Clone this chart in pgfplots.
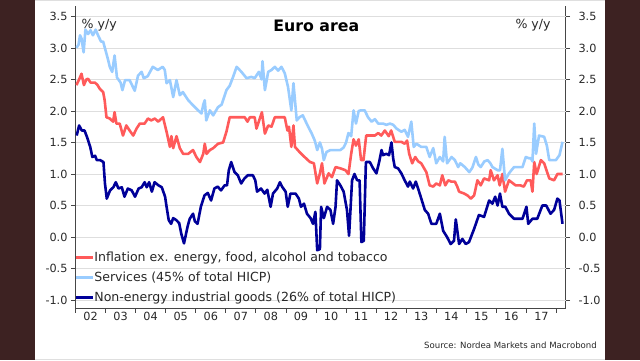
\documentclass[border=0pt]{standalone}
\usepackage{fontspec}
\setmainfont{DejaVu Sans}
\usepackage{pgfplots}
\pgfplotsset{compat=1.18}
\definecolor{frame}{RGB}{61,34,34}
\definecolor{core}{RGB}{255,90,90}
\definecolor{serv}{RGB}{153,204,255}
\definecolor{neig}{RGB}{0,0,153}
\definecolor{gridc}{RGB}{222,222,222}
\definecolor{axc}{RGB}{70,70,70}
\definecolor{txt}{RGB}{40,40,40}
\begin{document}
\begin{tikzpicture}[x=1bp,y=1bp]
\useasboundingbox (0,0) rectangle (640,360);
\fill[frame] (0,0) rectangle (640,360);
\fill[white] (35,0) rectangle (605,360);
\draw[gray!25, line width=0.8bp] (35,359.5) -- (605,359.5);
\draw[gray!25, line width=0.8bp] (35,1) -- (605,1);
% right axis (labels only)
\begin{axis}[
  at={(75.5bp,51.7bp)}, anchor=south west, scale only axis,
  width=490bp, height=302bp,
  xmin=2002, xmax=2018.3, ymin=-1.13, ymax=3.66,
  axis y line*=right, axis x line=none,
  axis line style={axc, line width=0.8bp, -},
  ytick={-1,-0.5,0,0.5,1,1.5,2,2.5,3,3.5},
  tick align=outside, major tick length=4.5bp,
  tick style={axc, line width=0.8bp},
  yticklabel pos=right,
  /pgf/number format/fixed, /pgf/number format/fixed zerofill,
  /pgf/number format/precision=1, /pgf/number format/assume math mode=true,
  y tick label style={font=\fontsize{11.3}{13}\selectfont, text=txt, xshift=5bp},
]
\addplot[draw=none, forget plot] coordinates {(2002,0) (2018,0)};
\end{axis}
% main axis
\begin{axis}[
  at={(75.5bp,51.7bp)}, anchor=south west, scale only axis,
  width=490bp, height=302bp,
  xmin=2002, xmax=2018.3, ymin=-1.13, ymax=3.66,
  axis x line*=bottom, axis y line*=left,
  axis line style={axc, line width=0.8bp, -},
  ytick={-1,-0.5,0,0.5,1,1.5,2,2.5,3,3.5},
  ymajorgrids, grid style={gridc, line width=0.8bp},
  xtick={2002,2003,...,2018}, xticklabels={},
  extra x ticks={2002.5,2003.5,2004.5,2005.5,2006.5,2007.5,2008.5,2009.5,2010.5,2011.5,2012.5,2013.5,2014.5,2015.5,2016.5,2017.5},
  extra x tick labels={02,03,04,05,06,07,08,09,10,11,12,13,14,15,16,17},
  extra x tick style={major tick length=0pt},
  tick align=outside, major tick length=4.5bp,
  tick style={axc, line width=0.8bp},
  /pgf/number format/fixed, /pgf/number format/fixed zerofill,
  /pgf/number format/precision=1, /pgf/number format/assume math mode=true,
  y tick label style={font=\fontsize{11.3}{13}\selectfont, text=txt},
  x tick label style={font=\fontsize{11.3}{13}\selectfont, text=txt},
  legend style={at={(0.0,0.197)}, anchor=north west, xshift=-4bp, draw=none, fill=none,
    font=\fontsize{12.6}{14}\selectfont, text=txt, row sep=6.5bp, column sep=-1.5bp,
    nodes={inner sep=1.2bp}},
  legend cell align=left,
  legend image code/.code={\draw[#1, line width=3bp] (0bp,0bp) -- (17bp,0bp);},
  every axis plot/.append style={line width=2.6bp, line join=round},
]
\addplot[core] coordinates {
(2002.03,2.41)(2002.12,2.50)(2002.2,2.59)(2002.28,2.41)(2002.36,2.50)(2002.42,2.51)(2002.5,2.45)(2002.64,2.45)(2002.72,2.42)(2002.81,2.35)(2002.92,2.30)(2002.97,2.17)
(2003.03,1.90)(2003.14,1.88)(2003.25,1.83)(2003.3,1.98)(2003.36,1.80)(2003.47,1.80)(2003.58,1.61)(2003.69,1.77)(2003.8,1.69)(2003.92,1.61)
(2004.03,1.72)(2004.14,1.80)(2004.3,1.80)(2004.41,1.88)(2004.52,1.85)(2004.64,1.88)(2004.75,1.83)(2004.91,1.90)
(2005.03,1.67)(2005.14,1.43)(2005.19,1.60)(2005.25,1.41)(2005.36,1.60)(2005.47,1.41)(2005.58,1.32)(2005.75,1.32)(2005.91,1.38)
(2006.02,1.27)(2006.14,1.19)(2006.25,1.32)(2006.3,1.48)(2006.36,1.32)(2006.47,1.38)(2006.58,1.41)(2006.74,1.48)(2006.91,1.50)
(2007.02,1.67)(2007.13,1.90)(2007.3,1.90)(2007.63,1.90)(2007.72,1.83)(2007.8,1.90)(2007.96,1.90)
(2008.02,1.72)(2008.13,1.88)(2008.2,1.98)(2008.3,1.64)(2008.41,1.77)(2008.52,1.75)(2008.63,1.90)(2008.96,1.90)
(2009.05,1.69)(2009.1,1.75)(2009.18,1.43)(2009.25,1.77)(2009.3,1.43)(2009.45,1.35)(2009.62,1.27)(2009.8,1.19)(2009.93,1.17)
(2010.04,0.85)(2010.13,1.01)(2010.2,1.17)(2010.28,0.85)(2010.42,1.01)(2010.53,0.95)(2010.65,1.11)(2010.81,1.09)(2010.98,1.06)
(2011.08,1.0)(2011.17,1.32)(2011.25,1.55)(2011.33,1.45)(2011.42,1.55)(2011.5,1.22)(2011.58,1.22)(2011.67,1.61)(2011.96,1.61)
(2012.07,1.65)(2012.17,1.61)(2012.29,1.69)(2012.42,1.60)(2012.5,1.69)(2012.62,1.51)(2012.84,1.51)(2012.95,1.48)
(2013.03,1.53)(2013.1,1.32)(2013.2,1.17)(2013.3,1.27)(2013.4,1.20)(2013.5,1.17)(2013.67,1.03)(2013.78,0.82)(2013.9,0.80)
(2014.0,0.85)(2014.12,0.82)(2014.2,0.98)(2014.3,0.82)(2014.4,0.90)(2014.5,0.88)(2014.62,0.88)(2014.7,0.80)(2014.76,0.72)(2014.93,0.69)
(2015.04,0.66)(2015.15,0.61)(2015.26,0.66)(2015.37,0.90)(2015.48,0.82)(2015.59,0.93)(2015.76,0.90)(2015.81,1.06)(2015.92,0.90)
(2016.04,0.98)(2016.11,0.82)(2016.2,1.0)(2016.29,0.72)(2016.42,0.90)(2016.64,0.82)(2016.8,0.82)(2016.91,0.80)
(2017.02,0.90)(2017.14,0.90)(2017.2,0.72)(2017.26,1.19)(2017.34,1.0)(2017.48,1.22)(2017.59,1.17)(2017.76,0.93)(2017.92,0.90)
(2018.03,1.0)(2018.2,1.0)
};
\addlegendentry{Inflation ex. energy, food, alcohol and tobacco}
\addplot[serv] coordinates {
(2002.03,3.0)(2002.1,3.05)(2002.15,3.2)(2002.2,3.15)(2002.27,2.93)(2002.33,3.29)(2002.42,3.22)(2002.5,3.28)(2002.58,3.2)(2002.67,3.29)(2002.75,3.2)(2002.85,3.1)(2002.92,3.1)
(2003.0,2.96)(2003.08,2.82)(2003.14,2.7)(2003.22,2.62)(2003.3,2.88)(2003.38,2.53)(2003.5,2.45)(2003.56,2.33)(2003.65,2.49)(2003.8,2.49)(2003.97,2.32)
(2004.08,2.56)(2004.2,2.62)(2004.27,2.52)(2004.4,2.55)(2004.57,2.70)(2004.74,2.65)(2004.9,2.70)(2004.97,2.65)
(2005.03,2.44)(2005.14,2.49)(2005.25,2.22)(2005.36,2.49)(2005.47,2.25)(2005.57,2.30)(2005.75,2.17)(2005.97,2.06)
(2006.1,2.0)(2006.19,1.96)(2006.25,2.1)(2006.3,2.17)(2006.35,1.85)(2006.47,2.01)(2006.58,1.93)(2006.74,2.06)(2006.86,2.10)
(2007.02,2.33)(2007.13,2.40)(2007.25,2.55)(2007.36,2.70)(2007.52,2.62)(2007.69,2.52)(2007.85,2.54)(2007.96,2.52)
(2008.1,2.62)(2008.19,2.50)(2008.22,2.79)(2008.3,2.33)(2008.41,2.62)(2008.52,2.65)(2008.63,2.70)(2008.74,2.64)(2008.85,2.70)(2008.96,2.60)
(2009.07,2.38)(2009.18,2.01)(2009.25,2.44)(2009.36,1.85)(2009.45,1.90)(2009.56,1.93)(2009.74,1.75)(2009.85,1.65)(2009.96,1.53)
(2010.04,1.38)(2010.13,1.50)(2010.2,1.40)(2010.26,1.22)(2010.35,1.35)(2010.48,1.38)(2010.65,1.38)(2010.81,1.38)(2010.92,1.42)
(2011.0,1.50)(2011.08,1.65)(2011.17,1.60)(2011.25,2.01)(2011.33,1.80)(2011.42,2.0)(2011.5,2.01)(2011.62,2.01)(2011.73,1.9)(2011.85,1.83)(2011.96,1.87)
(2012.07,1.8)(2012.17,1.8)(2012.23,1.8)(2012.34,1.78)(2012.46,1.8)(2012.57,1.78)(2012.68,1.72)(2012.84,1.67)(2012.95,1.7)
(2013.06,1.59)(2013.17,1.83)(2013.25,1.43)(2013.34,1.48)(2013.5,1.43)(2013.67,1.43)(2013.78,1.27)(2013.9,1.41)
(2014.0,1.17)(2014.12,1.27)(2014.23,1.2)(2014.28,1.59)(2014.36,1.17)(2014.51,1.27)(2014.62,1.22)(2014.73,1.11)(2014.8,1.17)(2014.95,1.11)
(2015.1,1.03)(2015.2,1.1)(2015.32,1.27)(2015.4,1.15)(2015.48,1.11)(2015.6,1.2)(2015.71,1.22)(2015.8,1.17)(2015.87,1.11)
(2016.04,1.06)(2016.12,1.06)(2016.2,1.4)(2016.29,0.9)(2016.42,1.01)(2016.5,1.06)(2016.59,1.11)(2016.75,1.11)(2016.87,1.11)(2016.98,1.27)
(2017.08,1.25)(2017.15,1.25)(2017.2,1.2)(2017.26,1.8)(2017.32,1.32)(2017.42,1.61)(2017.59,1.59)(2017.68,1.45)(2017.76,1.22)(2017.98,1.22)
(2018.1,1.3)(2018.2,1.51)
};
\addlegendentry{Services (45\% of total HICP)}
\addplot[neig] coordinates {
(2002.04,1.61)(2002.12,1.77)(2002.21,1.69)(2002.3,1.69)(2002.38,1.59)(2002.49,1.43)(2002.56,1.27)(2002.65,1.29)(2002.71,1.22)(2002.82,1.22)(2002.93,1.19)(2002.98,0.85)
(2003.04,0.61)(2003.15,0.74)(2003.26,0.79)(2003.34,0.87)(2003.43,0.77)(2003.54,0.79)(2003.63,0.64)(2003.74,0.77)(2003.87,0.74)(2003.98,0.64)
(2004.1,0.77)(2004.2,0.79)(2004.3,0.87)(2004.37,0.79)(2004.45,0.87)(2004.54,0.72)(2004.63,0.87)(2004.76,0.82)(2004.87,0.79)(2004.98,0.64)
(2005.03,0.48)(2005.1,0.27)(2005.18,0.21)(2005.25,0.30)(2005.35,0.27)(2005.45,0.22)(2005.52,0.05)(2005.61,-0.10)(2005.73,0.17)(2005.8,0.29)(2005.91,0.37)(2005.97,0.25)
(2006.06,0.21)(2006.17,0.48)(2006.29,0.66)(2006.4,0.70)(2006.51,0.58)(2006.62,0.77)(2006.73,0.80)(2006.84,0.74)(2006.96,0.82)
(2007.04,0.82)(2007.1,1.06)(2007.18,1.19)(2007.29,1.03)(2007.4,0.98)(2007.51,0.85)(2007.62,0.93)(2007.73,0.98)(2007.9,0.98)(2007.98,0.90)
(2008.04,0.72)(2008.17,0.77)(2008.29,0.69)(2008.38,0.75)(2008.49,0.48)(2008.57,0.69)(2008.71,0.77)(2008.8,0.87)(2008.87,0.80)(2008.99,0.72)
(2009.06,0.48)(2009.15,0.69)(2009.32,0.69)(2009.43,0.61)(2009.5,0.48)(2009.6,0.53)(2009.7,0.37)(2009.82,0.30)(2009.9,0.21)(2009.98,0.40)
(2010.04,-0.21)(2010.13,-0.19)(2010.17,0.48)(2010.26,0.30)(2010.37,0.48)(2010.48,0.43)(2010.57,0.21)(2010.65,0.48)(2010.7,0.90)(2010.81,0.82)(2010.92,0.72)
(2011.03,0.43)(2011.1,0.02)(2011.2,0.90)(2011.28,1.0)(2011.37,0.90)(2011.45,0.90)(2011.51,-0.08)(2011.59,-0.06)(2011.66,1.19)(2011.79,1.19)(2011.9,1.09)
(2012.01,1.01)(2012.1,1.19)(2012.18,1.38)(2012.23,1.30)(2012.34,1.32)(2012.43,1.30)(2012.51,1.50)(2012.57,1.24)(2012.62,1.11)(2012.73,1.09)(2012.84,1.01)(2012.95,0.90)
(2013.06,0.80)(2013.12,0.88)(2013.23,0.77)(2013.32,0.88)(2013.45,0.69)(2013.62,0.43)(2013.73,0.37)(2013.84,0.21)
(2014.0,0.21)(2014.12,0.37)(2014.23,0.10)(2014.36,0.0)(2014.48,-0.11)(2014.59,-0.06)(2014.65,0.28)(2014.76,-0.11)(2014.87,-0.03)(2014.98,-0.11)
(2015.09,-0.08)(2015.26,0.13)(2015.42,0.35)(2015.59,0.32)(2015.76,0.58)(2015.87,0.53)(2015.96,0.64)
(2016.04,0.50)(2016.12,0.69)(2016.2,0.48)(2016.3,0.48)(2016.42,0.37)(2016.59,0.29)(2016.87,0.29)
(2017.0,0.48)(2017.06,0.21)(2017.2,0.29)(2017.36,0.29)(2017.53,0.50)(2017.66,0.50)(2017.8,0.37)(2017.92,0.43)
(2018.03,0.61)(2018.1,0.58)(2018.2,0.21)
};
\addlegendentry{Non-energy industrial goods (26\% of total HICP)}
\end{axis}
\node[font=\bfseries\fontsize{15.8}{18}\selectfont, text=black] at (316.3,334) {Euro area};
\node[font=\fontsize{12.6}{14}\selectfont, text=txt] at (99.2,335) {\% y/y};
\node[font=\fontsize{12.6}{14}\selectfont, text=txt] at (533,335) {\% y/y};
\node[anchor=east, font=\fontsize{8.6}{10}\selectfont, text=txt, inner sep=0pt] at (597,15) {Source: Nordea Markets and Macrobond};
\end{tikzpicture}
\end{document}
